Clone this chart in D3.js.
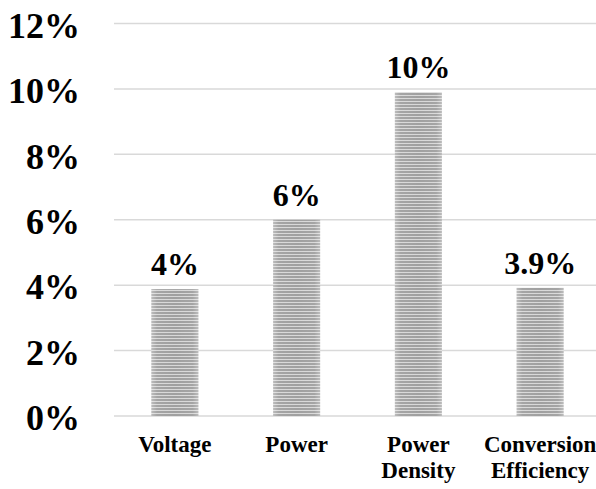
<!DOCTYPE html>
<html>
<head>
<meta charset="utf-8">
<script src="https://cdn.jsdelivr.net/npm/d3@7"></script>
<style>
html,body{margin:0;padding:0;background:#fff;}
svg{display:block;}
text{font-family:"Liberation Serif","Times New Roman",serif;font-weight:bold;fill:#000;}
</style>
</head>
<body>
<svg id="chart" width="596" height="489"></svg>
<script>
const categories = [["Voltage"], ["Power"], ["Power", "Density"], ["Conversion", "Efficiency"]];
const categoryKeys = ["Voltage", "Power", "Power Density", "Conversion Efficiency"];
const values = [0.0388, 0.060, 0.099, 0.0392];
const valueLabels = ["4%", "6%", "10%", "3.9%"];
const yTicks = [0, 0.02, 0.04, 0.06, 0.08, 0.10, 0.12];

const svg = d3.select("#chart");
const W = 596, H = 489;

const x = d3.scaleBand().domain(categoryKeys).range([114, 601]).paddingInner(0.614).paddingOuter(0.307);
const y = d3.scaleLinear().domain([0, 0.12]).range([416, 23.5]);

const defs = svg.append("defs");
const pat = defs.append("pattern").attr("id", "stripes").attr("patternUnits", "userSpaceOnUse")
  .attr("width", 6).attr("height", 3);
pat.append("rect").attr("width", 6).attr("height", 3).attr("fill", "#a0a0a0");
pat.append("rect").attr("y", 2).attr("width", 6).attr("height", 1).attr("fill", "#d8d8d8");

const grad = defs.append("linearGradient").attr("id", "edge").attr("x1", "0").attr("x2", "1").attr("y1", "0").attr("y2", "0");
grad.append("stop").attr("offset", "0").attr("stop-color", "#fff").attr("stop-opacity", 0.3);
grad.append("stop").attr("offset", "0.12").attr("stop-color", "#fff").attr("stop-opacity", 0.05);
grad.append("stop").attr("offset", "0.5").attr("stop-color", "#fff").attr("stop-opacity", 0.0);
grad.append("stop").attr("offset", "0.88").attr("stop-color", "#fff").attr("stop-opacity", 0.05);
grad.append("stop").attr("offset", "1").attr("stop-color", "#fff").attr("stop-opacity", 0.3);

// gridlines
svg.append("g").selectAll("line").data(yTicks).join("line")
  .attr("x1", 114).attr("x2", W)
  .attr("y1", d => y(d)).attr("y2", d => y(d))
  .attr("stroke", "#d9d9d9").attr("stroke-width", 1.5);

// y axis labels
const yAxis = d3.axisLeft(y).tickValues(yTicks).tickFormat(d3.format(".0%")).tickSize(0).tickPadding(0);
const ya = svg.append("g").attr("transform", "translate(80,0)").call(yAxis);
ya.select(".domain").remove();
ya.selectAll("text").attr("font-size", 36).attr("font-family", '"Liberation Serif", serif')
  .attr("font-weight", "bold").attr("dy", "0.38em").attr("fill", "#000");

// bars
const bars = svg.append("g");
bars.selectAll("rect.bar").data(values).join("rect").attr("class", "bar")
  .attr("x", (d, i) => x(categoryKeys[i])).attr("width", x.bandwidth())
  .attr("y", d => y(d)).attr("height", d => y(0) - y(d))
  .attr("fill", "url(#stripes)");
bars.selectAll("rect.shade").data(values).join("rect").attr("class", "shade")
  .attr("x", (d, i) => x(categoryKeys[i])).attr("width", x.bandwidth())
  .attr("y", d => y(d)).attr("height", d => y(0) - y(d))
  .attr("fill", "url(#edge)");

// value labels
svg.append("g").selectAll("text").data(values).join("text")
  .attr("x", (d, i) => x(categoryKeys[i]) + x.bandwidth() / 2)
  .attr("y", d => y(d) - 14)
  .attr("text-anchor", "middle").attr("font-size", 32)
  .text((d, i) => valueLabels[i]);

// x labels
const xl = svg.append("g").selectAll("text").data(categories).join("text")
  .attr("x", (d, i) => x(categoryKeys[i]) + x.bandwidth() / 2)
  .attr("y", 452).attr("text-anchor", "middle").attr("font-size", 23);
xl.selectAll("tspan").data(d => d).join("tspan")
  .attr("x", function() { return d3.select(this.parentNode).attr("x"); })
  .attr("dy", (d, i) => i === 0 ? 0 : 26)
  .text(d => d);
</script>
</body>
</html>
